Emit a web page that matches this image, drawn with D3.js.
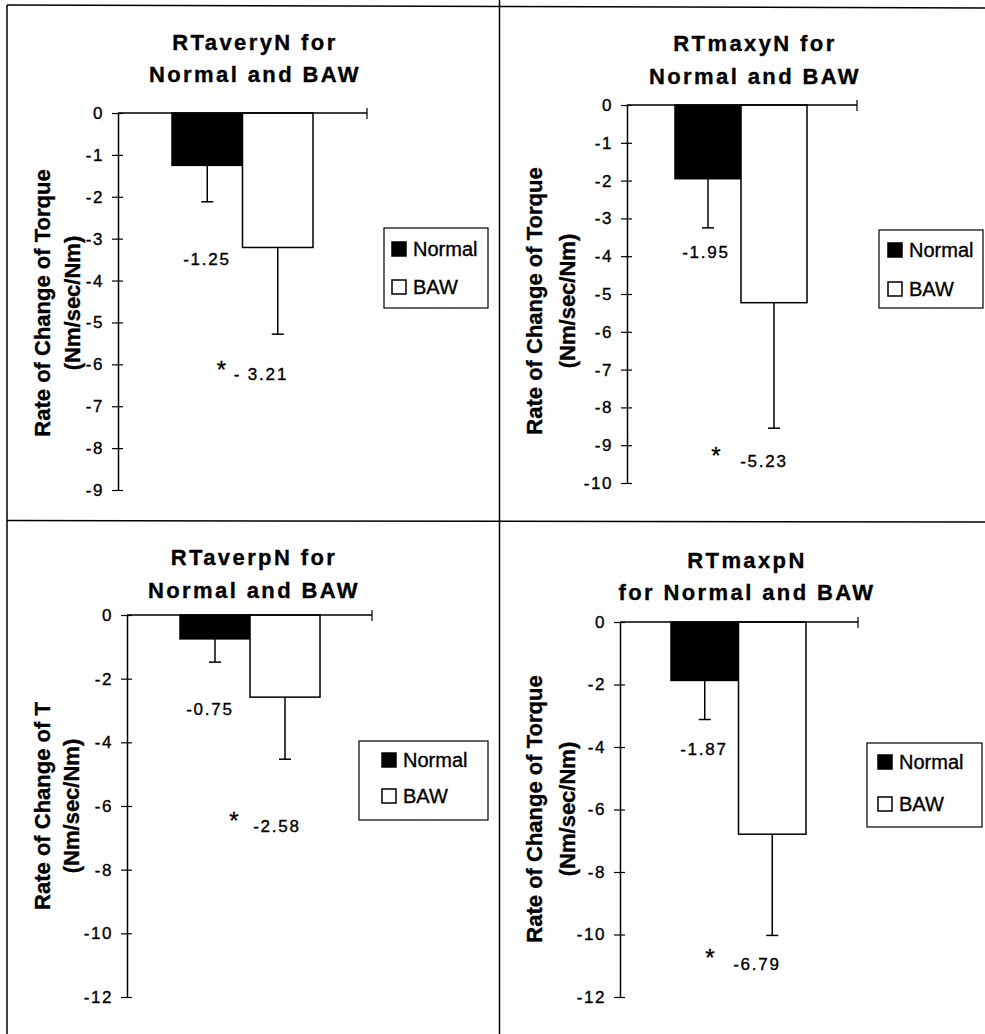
<!DOCTYPE html>
<html>
<head>
<meta charset="utf-8">
<script src="https://cdn.jsdelivr.net/npm/d3@7"></script>
<style>
  html, body { margin: 0; padding: 0; background: #fff; }
  svg { display: block; }
  text { font-family: "Liberation Sans", Arial, Helvetica, sans-serif; fill: #000; }
</style>
</head>
<body>
<svg id="chart" width="985" height="1034"></svg>
<script>
// ---------------- DATA ----------------
const seriesNames = ["Normal", "BAW"];
const titleLine1 = ["RTaveryN for", "RTmaxyN for", "RTaverpN for", "RTmaxpN"];
const titleLine2 = ["Normal and BAW", "Normal and BAW", "Normal and BAW", "for Normal and BAW"];
const yLabelLine1 = ["Rate of Change of Torque", "Rate of Change of Torque", "Rate of Change of T", "Rate of Change of Torque"];
const yLabelLine2 = ["(Nm/sec/Nm)", "(Nm/sec/Nm)", "(Nm/sec/Nm)", "(Nm/sec/Nm)"];
const normalMeans = [-1.25, -1.95, -0.75, -1.87];
const bawMeans = [-3.21, -5.23, -2.58, -6.79];
const normalErr = [0.87, 1.30, 0.73, 1.25];
const bawErr = [2.07, 3.32, 1.95, 3.24];
const normalValueLabels = ["-1.25", "-1.95", "-0.75", "-1.87"];
const bawValueLabels = ["- 3.21", "-5.23", "-2.58", "-6.79"];
const significanceMark = ["*", "*", "*", "*"];
const yMins = [-9, -10, -12, -12];
const yTickSteps = [1, 1, 2, 2];

// ---------------- LAYOUT (pixels) ----------------
const layout = [
  { axisX: 118, xEnd: 367, yTop: 113, yBot: 490, bars: [172, 313],
    title: { x: 255, b1: 50, b2: 82 },
    ylab: { b1: 50, b2: 80, cy: 303 },
    nLab: { x: 207, b: 265 }, star: { x: 221.5, b: 378 }, bLab: { x: 261, b: 380 },
    legend: { x: 384, y: 228, w: 104, h: 80, sx: 392, r1: 242, r2: 280 } },
  { axisX: 627, xEnd: 857, yTop: 105, yBot: 483, bars: [675, 807],
    title: { x: 755, b1: 51, b2: 84 },
    ylab: { b1: 542, b2: 575, cy: 301 },
    nLab: { x: 706, b: 258 }, star: { x: 716, b: 464 }, bLab: { x: 764, b: 467 },
    legend: { x: 879, y: 230, w: 104, h: 78, sx: 888, r1: 243, r2: 282 } },
  { axisX: 127, xEnd: 372, yTop: 615, yBot: 997, bars: [180, 320],
    title: { x: 254, b1: 565, b2: 598 },
    ylab: { b1: 50, b2: 79, cy: 806 },
    nLab: { x: 210, b: 715 }, star: { x: 234, b: 829 }, bLab: { x: 277, b: 832 },
    legend: { x: 359, y: 741, w: 129, h: 79, sx: 382, r1: 753, r2: 789 } },
  { axisX: 620, xEnd: 858, yTop: 622, yBot: 997, bars: [671, 806],
    title: { x: 747, b1: 568, b2: 600 },
    ylab: { b1: 542, b2: 575, cy: 809 },
    nLab: { x: 704, b: 755 }, star: { x: 710, b: 966 }, bLab: { x: 757, b: 970 },
    legend: { x: 867, y: 743, w: 115, h: 84, sx: 878, r1: 755, r2: 797 } }
];

const svg = d3.select("#chart");

// frame lines
const frame = svg.append("g").attr("stroke", "#000").attr("stroke-width", 1.5).attr("fill", "none");
frame.append("line").attr("x1", 7).attr("y1", 5).attr("x2", 985).attr("y2", 8);
frame.append("line").attr("x1", 7).attr("y1", 5).attr("x2", 7).attr("y2", 1034);
frame.append("line").attr("x1", 499.5).attr("y1", 0).attr("x2", 499.5).attr("y2", 1034);
frame.append("line").attr("x1", 7).attr("y1", 520.5).attr("x2", 985).attr("y2", 522);

const heavy = sel => sel.attr("stroke", "#000").attr("stroke-width", 0.35);

layout.forEach((L, i) => {
  const g = svg.append("g");
  const y = d3.scaleLinear().domain([yMins[i], 0]).range([L.yBot, L.yTop]);
  const x = d3.scaleBand().domain(seriesNames).range(L.bars).padding(0);
  const ticks = d3.range(0, yMins[i] - 0.001, -yTickSteps[i]);

  // title
  const t = g.append("text").attr("text-anchor", "middle")
    .style("font-size", "22px").style("font-weight", "bold").style("letter-spacing", "2.4px")
    .call(heavy);
  t.append("tspan").attr("x", L.title.x).attr("y", L.title.b1).text(titleLine1[i]);
  t.append("tspan").attr("x", L.title.x).attr("y", L.title.b2).text(titleLine2[i]);

  // y label
  g.append("text").attr("text-anchor", "middle")
    .attr("transform", `translate(${L.ylab.b1},${L.ylab.cy}) rotate(-90)`)
    .style("font-size", "22px").style("font-weight", "bold").call(heavy)
    .text(yLabelLine1[i]);
  g.append("text").attr("text-anchor", "middle")
    .attr("transform", `translate(${L.ylab.b2},${L.ylab.cy}) rotate(-90)`)
    .style("font-size", "22px").style("font-weight", "bold").call(heavy)
    .text(yLabelLine2[i]);

  // bars
  const means = [normalMeans[i], bawMeans[i]];
  const errs = [normalErr[i], bawErr[i]];
  const fills = ["#000", "#fff"];
  seriesNames.forEach((s, k) => {
    g.append("rect")
      .attr("x", x(s)).attr("width", x.bandwidth())
      .attr("y", y(0)).attr("height", y(means[k]) - y(0))
      .attr("fill", fills[k]).attr("stroke", "#000").attr("stroke-width", 1.5);
    const cx = x(s) + x.bandwidth() / 2;
    const ye = y(means[k] - errs[k]);
    g.append("line").attr("x1", cx).attr("x2", cx).attr("y1", y(means[k])).attr("y2", ye)
      .attr("stroke", "#000").attr("stroke-width", 1.5);
    g.append("line").attr("x1", cx - 6).attr("x2", cx + 6).attr("y1", ye).attr("y2", ye)
      .attr("stroke", "#000").attr("stroke-width", 1.5);
  });

  // y axis
  const yAxis = d3.axisLeft(y).tickValues(ticks).tickFormat(d => String(d))
    .tickSizeInner(6).tickSizeOuter(0).tickPadding(8);
  const ag = g.append("g").attr("transform", `translate(${L.axisX},0)`).call(yAxis);
  ag.select(".domain").attr("stroke-width", 1.5).attr("d", `M0.5,${L.yTop}V${L.yBot}`);
  ag.selectAll(".tick line").attr("x1", 5).attr("stroke-width", 1.2);
  ag.selectAll(".tick text").style("font-size", "17px").style("letter-spacing", "1.6px")
    .style("font-family", '"Liberation Sans", Arial, sans-serif').attr("fill", "#000")
    .call(heavy);

  // x axis line (at zero) with end tick
  g.append("line").attr("x1", L.axisX).attr("x2", L.xEnd).attr("y1", y(0)).attr("y2", y(0))
    .attr("stroke", "#000").attr("stroke-width", 1.5);
  g.append("line").attr("x1", L.xEnd).attr("x2", L.xEnd).attr("y1", y(0) - 5).attr("y2", y(0) + 6)
    .attr("stroke", "#000").attr("stroke-width", 1.2);

  // value labels
  g.append("text").attr("text-anchor", "middle").attr("x", L.nLab.x).attr("y", L.nLab.b)
    .style("font-size", "17px").style("letter-spacing", "1.8px").call(heavy).text(normalValueLabels[i]);
  g.append("text").attr("text-anchor", "middle").attr("x", L.bLab.x).attr("y", L.bLab.b)
    .style("font-size", "17px").style("letter-spacing", "1.8px").call(heavy).text(bawValueLabels[i]);
  g.append("text").attr("text-anchor", "middle").attr("x", L.star.x).attr("y", L.star.b)
    .style("font-size", "24px").call(heavy).text(significanceMark[i]);

  // legend
  const lg = g.append("g");
  lg.append("rect").attr("x", L.legend.x).attr("y", L.legend.y).attr("width", L.legend.w).attr("height", L.legend.h)
    .attr("fill", "#fff").attr("stroke", "#000").attr("stroke-width", 1.2);
  [L.legend.r1, L.legend.r2].forEach((ry, k) => {
    lg.append("rect").attr("x", L.legend.sx).attr("y", ry).attr("width", 14).attr("height", 14)
      .attr("fill", fills[k]).attr("stroke", "#000").attr("stroke-width", 1.5);
    lg.append("text").attr("x", L.legend.sx + 21).attr("y", ry + 14)
      .style("font-size", "20px").call(heavy).text(seriesNames[k]);
  });
});
</script>
</body>
</html>
